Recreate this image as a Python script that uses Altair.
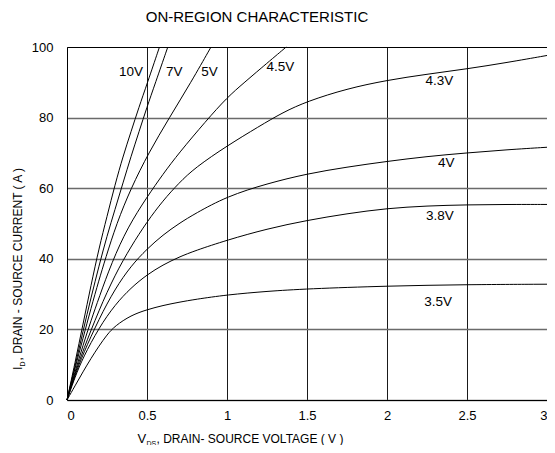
import altair as alt
import pandas as pd

FONT = "Liberation Sans"

# ---- curve data (V_DS in volts, I_D in amps) ----
curve_names = ["10V", "7V", "5V", "4.5V", "4.3V", "4V", "3.8V", "3.5V"]

x_10v = [0, 0.05, 0.1, 0.15, 0.2, 0.25, 0.3, 0.35, 0.4, 0.45, 0.5, 0.578]
y_10v = [0, 10.5, 21.5, 32.5, 43, 52, 61, 69, 76, 83, 89.5, 100]

x_7v = [0, 0.05, 0.1, 0.15, 0.2, 0.25, 0.3, 0.35, 0.4, 0.45, 0.5, 0.55, 0.63]
y_7v = [0, 9.5, 19.5, 29, 38, 46.5, 54, 61.5, 69, 76, 83, 89.5, 100]

x_5v = [0, 0.05, 0.1, 0.15, 0.2, 0.24, 0.31, 0.4, 0.51, 0.64, 0.775, 0.9]
y_5v = [0, 9, 17.5, 26, 34, 40, 50, 60, 70, 80, 90, 100]

x_45v = [0, 0.05, 0.1, 0.15, 0.2, 0.28, 0.38, 0.5, 0.6, 0.7, 0.868, 1.0, 1.11, 1.2, 1.37]
y_45v = [0, 8, 15.5, 22.5, 29, 39, 49, 57.5, 64, 70, 79, 85.7, 90, 93.5, 100]

x_43v = [0, 0.05, 0.1, 0.2, 0.3, 0.4, 0.5, 0.6, 0.7, 0.8, 1.0, 1.2, 1.35, 1.5, 1.75,
         2.0, 2.25, 2.5, 2.75, 3.0]
y_43v = [0, 7.5, 14, 25.5, 35.5, 43.5, 50.5, 56.5, 61.5, 65.8, 72, 77.5, 81.5, 84.6, 88.2,
         90.6, 92.3, 93.8, 95.6, 97.6]

x_4v = [0, 0.05, 0.1, 0.2, 0.3, 0.4, 0.5, 0.6, 0.7, 0.8, 1.0, 1.25, 1.5, 1.75, 2.0,
        2.25, 2.5, 2.75, 3.0]
y_4v = [0, 7, 13, 23, 31.5, 38, 42.8, 46.8, 50, 52.8, 57.7, 61.3, 64.1, 66, 67.6,
        69, 70, 70.9, 71.6]

x_38v = [0, 0.05, 0.1, 0.2, 0.3, 0.4, 0.5, 0.6, 0.7, 0.8, 1.0, 1.25, 1.5, 1.75, 2.0,
         2.25, 2.5, 2.75, 3.0]
y_38v = [0, 6.5, 12, 20.5, 27, 31.8, 35.5, 38.3, 40.5, 42.3, 45.3, 48.5, 50.9, 52.8, 54.3,
         55, 55.3, 55.4, 55.4]

x_35v = [0, 0.05, 0.1, 0.15, 0.2, 0.25, 0.3, 0.4, 0.5, 0.6, 0.7, 0.8, 1.0, 1.25, 1.5,
         2.0, 2.5, 3.0]
y_35v = [0, 4, 8, 11.8, 15.3, 18.5, 21, 24, 25.6, 26.8, 27.7, 28.5, 29.8, 30.8, 31.5,
         32.3, 32.7, 32.8]

curve_x = [x_10v, x_7v, x_5v, x_45v, x_43v, x_4v, x_38v, x_35v]
curve_y = [y_10v, y_7v, y_5v, y_45v, y_43v, y_4v, y_38v, y_35v]

# ---- curve labels ----
label_text = ["10V", "7V", "5V", "4.5V", "4.3V", "4V", "3.8V", "3.5V"]
label_x = [0.40, 0.67, 0.89, 1.333, 2.327, 2.37, 2.33, 2.32]
label_y = [92.8, 92.8, 92.8, 94.2, 90.4, 67.2, 52.1, 27.7]

# ---- axis ticks ----
x_ticks = [0, 0.5, 1, 1.5, 2, 2.5, 3]
y_ticks = [0, 10, 20, 30, 40, 50, 60, 70, 80, 90, 100]

rows = []
for name, xs, ys in zip(curve_names, curve_x, curve_y):
    for a, b in zip(xs, ys):
        rows.append({"curve": name, "vds": a, "id": b})
df = pd.DataFrame(rows)
lab_df = pd.DataFrame({"t": label_text, "x": label_x, "y": label_y})

W, H = 480, 353

x_enc = alt.X(
    "vds:Q",
    scale=alt.Scale(domain=[0, 3], nice=False, zero=False),
    axis=alt.Axis(
        values=x_ticks, format="~g", title=None, grid=True, ticks=False,
        labelPadding=9, labelFontSize=13, labelFont=FONT, labelColor="black",
        domainColor="black", domainWidth=1,
        gridColor="#1a1a1a", gridWidth=1, labelFlush=True,
    ),
)
y_enc = alt.Y(
    "id:Q",
    scale=alt.Scale(domain=[0, 100], nice=False),
    axis=alt.Axis(
        values=y_ticks, title=None, grid=True, ticks=False,
        labelExpr="datum.value % 20 === 0 ? datum.label : ''",
        labelPadding=14, labelFontSize=13, labelFont=FONT, labelColor="black",
        labelOverlap=False, labelFlush=False,
        domainColor="black", domainWidth=1,
        gridColor={"condition": {"test": "datum.value === 100", "value": "black"},
                   "value": "#6a6a6a"},
        gridWidth={"condition": {"test": "datum.value === 100", "value": 1},
                   "value": 1.6},
    ),
)

lines = alt.Chart(df).mark_line(
    color="black", strokeWidth=1, interpolate="basis"
).encode(x=x_enc, y=y_enc, detail="curve:N")

labels = alt.Chart(lab_df).mark_text(
    font=FONT, fontSize=13.5, color="black", baseline="middle", align="center"
).encode(x="x:Q", y="y:Q", text="t:N")

def txt(s, px, py, size, angle=0, align="left", baseline="alphabetic"):
    return alt.Chart(pd.DataFrame({"t": [s]})).mark_text(
        font=FONT, fontSize=size, color="black", align=align,
        baseline=baseline, angle=angle,
    ).encode(x=alt.value(px), y=alt.value(py), text="t:N")

# x-axis title with subscript
xt1 = txt("V", 70.5, 395.5, 13)
xt2 = txt("DS", 79.5, 398.5, 7)
xt3 = txt(", DRAIN- SOURCE VOLTAGE ( V )", 89.5, 395.5, 12)

# y-axis title (rotated) with subscript
yt1 = txt("I", -45, 323, 12.5, angle=270)
yt2 = txt("D", -42, 319.5, 7, angle=270)
yt3 = txt(", DRAIN - SOURCE CURRENT ( A )", -45, 313.5, 12, angle=270)

chart = alt.layer(lines, labels, xt1, xt2, xt3, yt1, yt2, yt3).properties(
    width=W, height=H,
    autosize=alt.AutoSizeParams(type="none"),
    padding={"left": 59, "top": 39, "right": 0, "bottom": 45},
    title=alt.TitleParams(
        "ON-REGION CHARACTERISTIC", anchor="middle", dx=-50, offset=16,
        fontSize=15, font=FONT, fontWeight="normal", color="black",
    ),
).configure_view(stroke="black", strokeWidth=1).configure(background="white")

chart.save("out.html", embed_options={"renderer": "svg", "actions": False})
